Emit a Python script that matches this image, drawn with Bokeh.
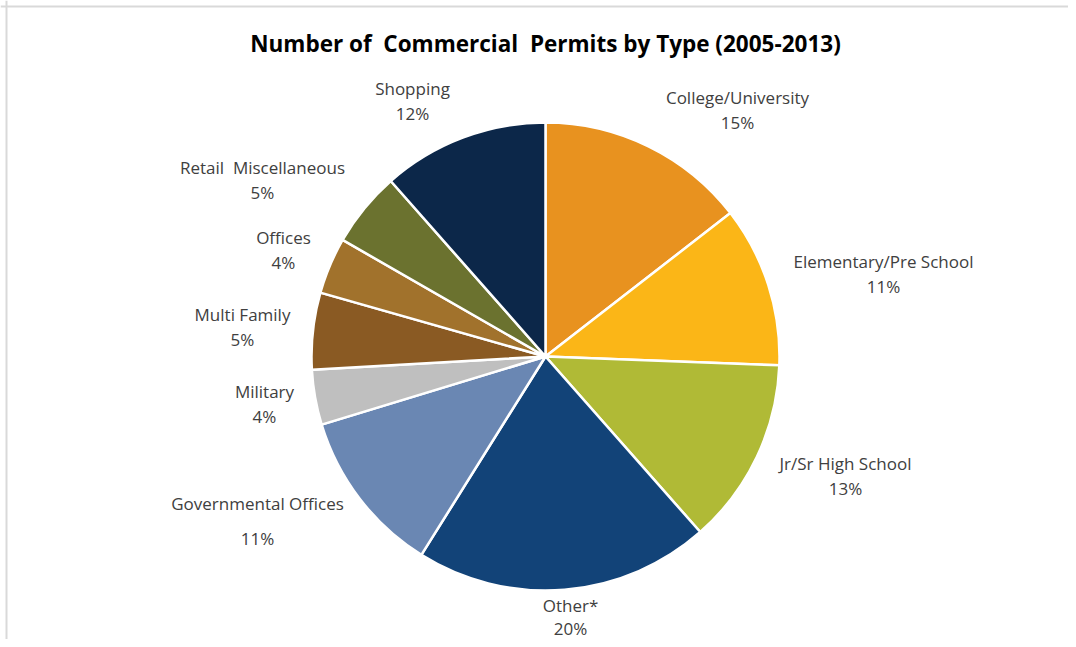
import math
from bokeh.plotting import figure
from bokeh.models import Range1d, ColumnDataSource, Span
from bokeh.core.properties import value
from bokeh.embed import file_html
from bokeh.resources import INLINE

# ---- data (clockwise from 12 o'clock) ----
categories = ["College/University", "Elementary/Pre School", "Jr/Sr High School",
              "Other*", "Governmental Offices", "Military", "Multi Family",
              "Offices", "Retail\u00a0 Miscellaneous", "Shopping"]
shares = [14.5, 11.1, 12.9, 20.4, 11.4, 3.8, 5.3, 3.9, 5.2, 11.5]
pct_labels = ["15%", "11%", "13%", "20%", "11%", "4%", "5%", "4%", "5%", "12%"]
colors = ["#E8921F", "#FBB617", "#B0BA36", "#124378", "#6A87B3",
          "#BFBFBF", "#8A5A23", "#A1722C", "#6B722F", "#0C2749"]
title = "Number of\u00a0 Commercial\u00a0 Permits by Type (2005-2013)"

# ---- layout (screen pixels) ----
W, H = 1068, 639
X0, Y0 = 1, 1          # where the figure's top-left lands on screen
def Y(sy):
    return H - (sy - Y0)
cx, cy, R = 546, Y(357), 234
label_pos = [(738, 98), (884, 262), (846, 464), (571, 606), (258, 504),
             (265, 392), (243, 315), (284, 238), (263, 168), (413, 89)]
pct_gap = [25, 25, 25, 23, 35, 25, 25, 25, 25, 25]

total = sum(shares)
starts, ends = [], []
acc = 0.0
for s in shares:
    starts.append(math.pi / 2 - 2 * math.pi * acc / total)
    acc += s
    ends.append(math.pi / 2 - 2 * math.pi * acc / total)

src = ColumnDataSource(dict(
    cat=categories, share=shares, color=colors, start=starts, end=ends,
    x=[cx] * len(shares), y=[cy] * len(shares)))

p = figure(width=W, height=H, x_range=Range1d(X0, X0 + W), y_range=Range1d(0, H),
           output_backend="svg", toolbar_location=None, min_border=0)
p.axis.visible = False
p.grid.visible = False
p.outline_line_color = None
p.background_fill_color = "white"
p.border_fill_color = "white"

p.wedge(x="x", y="y", radius=R, start_angle="start", end_angle="end",
        direction="clock", fill_color="color", line_color="white",
        line_width=2.5, source=src)

lsrc = ColumnDataSource(dict(
    name=categories, pct=pct_labels,
    x=[lp[0] for lp in label_pos],
    y1=[Y(lp[1]) for lp in label_pos],
    y2=[Y(lp[1] + g) for lp, g in zip(label_pos, pct_gap)]))

font = value("Open Sans")
p.text(x="x", y="y1", text="name", source=lsrc, text_font=font,
       text_font_size="17px", text_color="#404040", text_align="center",
       text_baseline="middle")
p.text(x="x", y="y2", text="pct", source=lsrc, text_font=font,
       text_font_size="17px", text_color="#404040", text_align="center",
       text_baseline="middle")

p.text(x=[546], y=[Y(44)], text=[title],
       text_font=font, text_font_style="bold", text_font_size="22.5px",
       text_color="#000000", text_align="center", text_baseline="middle")

p.add_layout(Span(location=Y(7), dimension="width", line_color="#d9d9d9", line_width=2))
p.add_layout(Span(location=7, dimension="height", line_color="#d9d9d9", line_width=2))

open("out.html", "w").write(file_html(p, INLINE))
